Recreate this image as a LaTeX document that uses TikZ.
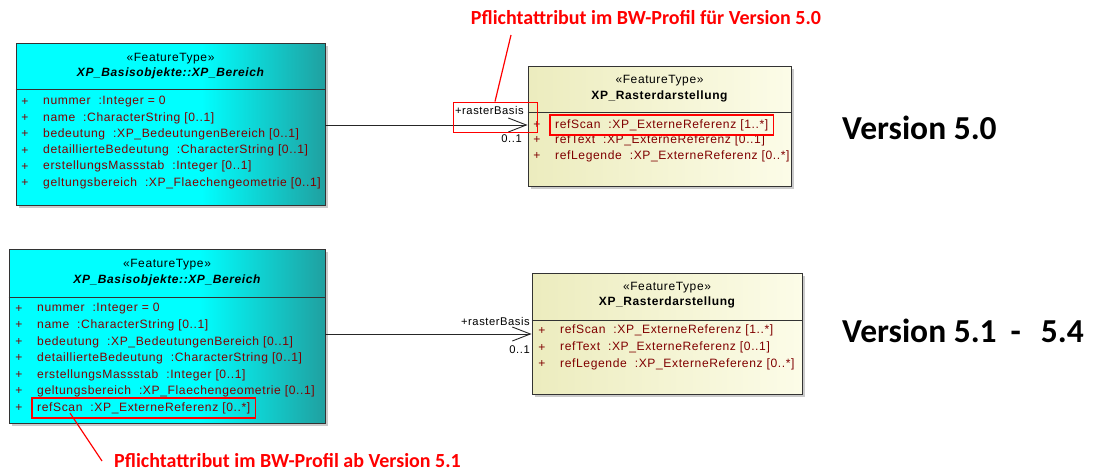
\documentclass[tikz,border=0pt]{standalone}
\usepackage{fontspec}
\usetikzlibrary{arrows.meta,calc,fit,shadows}
\newfontfamily\umlfont[LetterSpace=5]{Liberation Sans}
\newfontfamily\notefont{Carlito}
\definecolor{attrred}{RGB}{128,0,0}
\definecolor{notered}{RGB}{255,0,0}
\definecolor{ftcyan}{RGB}{0,255,255}
\definecolor{ftteal}{RGB}{32,160,160}
\definecolor{rdkhaki}{RGB}{236,236,190}
\definecolor{rdcream}{RGB}{252,252,232}
\pgfdeclarehorizontalshading{bereichshade}{100bp}{color(0bp)=(ftcyan); color(25bp)=(ftcyan); color(55bp)=(ftcyan); color(75bp)=(ftteal); color(100bp)=(ftteal)}

\begin{document}
\begin{tikzpicture}[x=1pt, y=-1pt,
  umlbox/.style={draw=black!80, line width=0.9pt, inner sep=0pt,
    drop shadow={shadow xshift=3pt, shadow yshift=-3pt, fill=black!40, opacity=0.5}},
  bereich/.style={umlbox, shading=bereichshade},
  raster/.style={umlbox, left color=rdkhaki, right color=rdcream},
  stereo/.style={font=\umlfont\fontsize{12}{14}\selectfont, inner sep=0pt},
  classname/.style={font=\umlfont\fontsize{12}{14}\selectfont\bfseries, inner sep=0pt},
  attr/.style={font=\umlfont\fontsize{12.1}{14}\selectfont, text=attrred, inner sep=0pt, anchor=west},
  plus/.style={font=\umlfont\fontsize{12.1}{14}\selectfont, text=attrred, inner sep=0pt},
  umlline/.style={draw=black!80, line width=0.9pt},
  assoc/.style={draw=black!85, line width=0.9pt, -{Straight Barb[length=18pt, width=14pt]}},
  rolelabel/.style={font=\umlfont\fontsize{11.2}{13}\selectfont, inner sep=0pt, anchor=east},
  redframe/.style={draw=notered, line width=1.6pt, inner xsep=5pt, inner ysep=4pt},
  redline/.style={draw=notered, line width=1.2pt},
  note/.style={font=\notefont\bfseries\fontsize{20}{24}\selectfont, text=notered, inner sep=0pt},
  version/.style={font=\notefont\bfseries\fontsize{33.5}{40}\selectfont, inner sep=0pt, anchor=west}]
\fill[white] (0,0) rectangle (1096,472);
\useasboundingbox (0,0) rectangle (1096,472);

% Version 5.0
\node (bereichA) [bereich, minimum width=309, minimum height=162] at (170.5,124) {};
\node (bereichA-stereo) at ($(bereichA.north)+(0,16)$) [stereo] {«FeatureType»};
\node (bereichA-name) at ($(bereichA.north)+(0,31)$) [classname] {\itshape XP\_Basisobjekte::XP\_Bereich};
\draw [umlline] (bereichA.west |- 0,89) -- (bereichA.east |- 0,89);
\foreach \attr [count=\i] in {{nummer~~:Integer = 0}, {name~~:CharacterString [0..1]},
    {bedeutung~~:XP\_BedeutungenBereich [0..1]}, {detaillierteBedeutung~~:CharacterString [0..1]},
    {erstellungsMassstab~~:Integer [0..1]}, {geltungsbereich~~:XP\_Flaechengeometrie [0..1]}} {
  \node (bereichA-p\i) at (25,85.8+16.2*\i) [plus] {+};
  \node (bereichA-\i) at (43,85.8+16.2*\i) [attr] {\attr};
}

\node (rasterA) [raster, minimum width=263, minimum height=120] at (659.5,126) {};
\node (rasterA-stereo) at ($(rasterA.north)+(0,15)$) [stereo] {«FeatureType»};
\node (rasterA-name) at ($(rasterA.north)+(0,31)$) [classname] {XP\_Rasterdarstellung};
\draw [umlline] (rasterA.west |- 0,112) -- (rasterA.east |- 0,112);
\foreach \attr [count=\i] in {{refScan~~:XP\_ExterneReferenz [1..*]}, {refText~~:XP\_ExterneReferenz [0..1]},
    {refLegende~~:XP\_ExterneReferenz [0..*]}} {
  \node (rasterA-p\i) at (537,109.5+15.5*\i) [plus] {+};
  \node (rasterA-\i) at (555,109.5+15.5*\i) [attr] {\attr};
}

\draw [assoc] (bereichA.east |- rasterA-1) -- (rasterA.west |- rasterA-1);
\node (roleA) at (524,110) [rolelabel] {+rasterBasis};
\node (multA) at (522,139) [rolelabel] {0..1};

\node (scanframeA) [redframe, fit=(rasterA-1)] {};
\node (roleframeA) [draw=notered, line width=0.9pt, minimum width=84, minimum height=30] at (495,117) {};
\node (noteA) at (646,18) [note] {Pflichtattribut im BW-Profil für Version 5.0};
\coordinate (noteAfoot) at (511,35);
\draw [redline] (noteAfoot) -- (roleframeA.north);

\node (versionA) at (842,128) [version] {Version 5.0};

% Version 5.1 - 5.4
\node (bereichB) [bereich, minimum width=316, minimum height=174] at (167,336) {};
\node (bereichB-stereo) at ($(bereichB.north)+(0,16)$) [stereo] {«FeatureType»};
\node (bereichB-name) at ($(bereichB.north)+(0,32)$) [classname] {\itshape XP\_Basisobjekte::XP\_Bereich};
\draw [umlline] (bereichB.west |- 0,297) -- (bereichB.east |- 0,297);
\foreach \attr [count=\i] in {{nummer~~:Integer = 0}, {name~~:CharacterString [0..1]},
    {bedeutung~~:XP\_BedeutungenBereich [0..1]}, {detaillierteBedeutung~~:CharacterString [0..1]},
    {erstellungsMassstab~~:Integer [0..1]}, {geltungsbereich~~:XP\_Flaechengeometrie [0..1]},
    {refScan~~:XP\_ExterneReferenz [0..*]}} {
  \node (bereichB-p\i) at (19,292.5+16.5*\i) [plus] {+};
  \node (bereichB-\i) at (37,292.5+16.5*\i) [attr] {\attr};
}

\node (rasterB) [raster, minimum width=270, minimum height=121] at (667,333.5) {};
\node (rasterB-stereo) at ($(rasterB.north)+(0,15)$) [stereo] {«FeatureType»};
\node (rasterB-name) at ($(rasterB.north)+(0,30)$) [classname] {XP\_Rasterdarstellung};
\draw [umlline] (rasterB.west |- 0,320) -- (rasterB.east |- 0,320);
\foreach \attr [count=\i] in {{refScan~~:XP\_ExterneReferenz [1..*]}, {refText~~:XP\_ExterneReferenz [0..1]},
    {refLegende~~:XP\_ExterneReferenz [0..*]}} {
  \node (rasterB-p\i) at (542,314+16.8*\i) [plus] {+};
  \node (rasterB-\i) at (560,314+16.8*\i) [attr] {\attr};
}

\draw [assoc] (bereichB.east |- 0,334) -- (rasterB.west |- 0,334);
\node (roleB) at (530,321) [rolelabel] {+rasterBasis};
\node (multB) at (530,350) [rolelabel] {0..1};

\node (scanframeB) [redframe, fit=(bereichB-7)] {};
\node (noteB) at (114,461) [note, anchor=west] {Pflichtattribut im BW-Profil ab Version 5.1};
\coordinate (scanfootB) at (70,413);
\draw [redline] (scanfootB) -- ($(noteB.west)+(-12,0)$);

\node (versionB) at (842,331) [version] {Version 5.1\hspace{14pt}-\hspace{20pt}5.4};
\end{tikzpicture}
\end{document}
